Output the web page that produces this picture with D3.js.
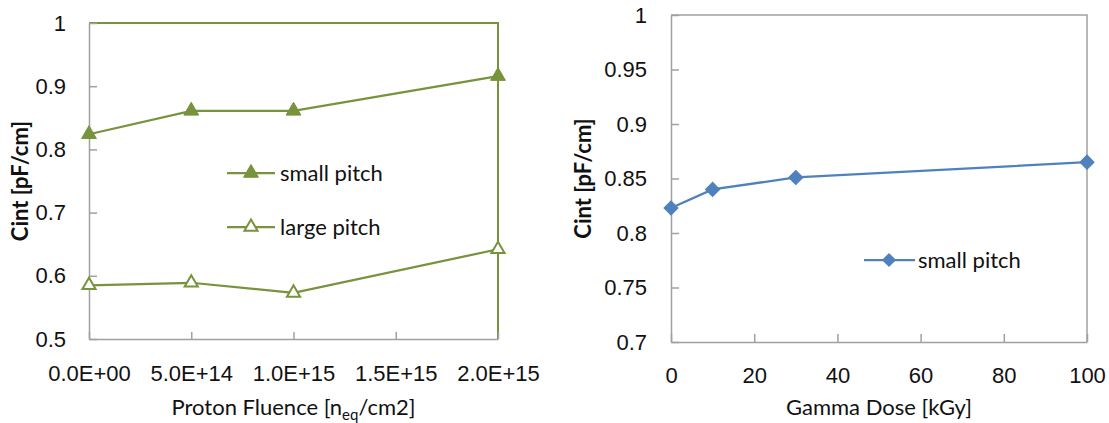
<!DOCTYPE html>
<html>
<head>
<meta charset="utf-8">
<script src="https://cdn.jsdelivr.net/npm/d3@7"></script>
<style>
  body { margin: 0; background: #fff; }
  svg { display: block; font-family: Lato, "Open Sans", sans-serif; }
  .axis path, .axis line { stroke: #a0a0a0; stroke-width: 1.5; }
  .axis text { font-size: 22px; fill: #111; }
</style>
</head>
<body>
<div id="chart"></div>
<script>
// Data - left panel (proton fluence)
var fluence = [0, 5e14, 1e15, 2e15];
var smallPitchP = [0.824, 0.861, 0.861, 0.916];
var largePitchP = [0.585, 0.589, 0.573, 0.642];
var fluenceTicks = [0, 5e14, 1e15, 1.5e15, 2e15];
var fluenceLabels = ["0.0E+00", "5.0E+14", "1.0E+15", "1.5E+15", "2.0E+15"];
var leftYTicks = [0.5, 0.6, 0.7, 0.8, 0.9, 1];

// Data - right panel (gamma dose)
var dose = [0, 10, 30, 100];
var smallPitchG = [0.823, 0.840, 0.851, 0.865];
var doseTicks = [0, 20, 40, 60, 80, 100];
var rightYTicks = [0.7, 0.75, 0.8, 0.85, 0.9, 0.95, 1];

var green = "#77933C", blue = "#4F81BD", grey = "#a0a0a0";

var svg = d3.select("#chart").append("svg")
    .attr("width", 1109)
    .attr("height", 423);

// ---------- left panel ----------
var L = {left: 89, right: 498, top: 23, bottom: 339};
var x1 = d3.scaleLinear().domain([0, 2e15]).range([L.left, L.right]);
var y1 = d3.scaleLinear().domain([0.5, 1]).range([L.bottom, L.top]);

// plot border (top/right green)
svg.append("path")
    .attr("d", "M" + L.left + "," + L.top + "H" + L.right + "V" + L.bottom)
    .attr("fill", "none")
    .attr("stroke", green)
    .attr("stroke-width", 2);

svg.append("g")
    .attr("class", "axis")
    .attr("transform", "translate(" + L.left + ",0)")
    .call(d3.axisLeft(y1).tickValues(leftYTicks).tickFormat(d3.format("")).tickSizeInner(-8).tickSizeOuter(0).tickPadding(23));

var gx1 = svg.append("g")
    .attr("class", "axis")
    .attr("transform", "translate(0," + L.bottom + ")")
    .call(d3.axisBottom(x1).tickValues(fluenceTicks).tickFormat((d, i) => fluenceLabels[i]).tickSizeInner(-7).tickSizeOuter(0));
gx1.selectAll("text").attr("y", 42).attr("dy", 0);

function drawSeries(xs, ys, xsc, ysc, color, symbol, size, hollow, rot) {
    var pts = xs.map((v, i) => [v, ys[i]]);
    svg.append("path")
        .datum(pts)
        .attr("fill", "none")
        .attr("stroke", color)
        .attr("stroke-width", 2.25)
        .attr("d", d3.line().x(d => xsc(d[0])).y(d => ysc(d[1])));
    svg.selectAll(null)
        .data(pts)
        .enter().append("path")
        .attr("d", d3.symbol().type(symbol).size(size))
        .attr("transform", d => "translate(" + xsc(d[0]) + "," + ysc(d[1]) + ") rotate(" + (rot || 0) + ")")
        .attr("fill", hollow ? "#fff" : color)
        .attr("stroke", color)
        .attr("stroke-width", hollow ? 2 : 1);
}

drawSeries(fluence, smallPitchP, x1, y1, green, d3.symbolTriangle, 95, false);
drawSeries(fluence, largePitchP, x1, y1, green, d3.symbolTriangle, 75, true);

// legend left
var legL = [
    {label: "small pitch", y: 173, hollow: false},
    {label: "large pitch", y: 227, hollow: true}
];
legL.forEach(function(d) {
    svg.append("line")
        .attr("x1", 227).attr("x2", 275)
        .attr("y1", d.y).attr("y2", d.y)
        .attr("stroke", green).attr("stroke-width", 2.25);
    svg.append("path")
        .attr("d", d3.symbol().type(d3.symbolTriangle).size(d.hollow ? 75 : 95))
        .attr("transform", "translate(251," + d.y + ")")
        .attr("fill", d.hollow ? "#fff" : green)
        .attr("stroke", green)
        .attr("stroke-width", d.hollow ? 2 : 1);
    svg.append("text")
        .attr("x", 280).attr("y", d.y)
        .attr("dy", "0.35em")
        .style("font-size", "22px")
        .style("fill", "#111")
        .text(d.label);
});

// axis titles left
svg.append("text")
    .attr("transform", "translate(28," + ((L.top + L.bottom) / 2) + ") rotate(-90)")
    .attr("text-anchor", "middle")
    .style("font-size", "22px")
    .style("font-weight", "bold")
    .style("fill", "#111")
    .text("Cint [pF/cm]");

var tx = svg.append("text")
    .attr("x", (L.left + L.right) / 2)
    .attr("y", 415)
    .attr("text-anchor", "middle")
    .style("font-size", "22px")
    .style("fill", "#111");
tx.append("tspan").text("Proton Fluence [n");
tx.append("tspan").attr("dy", 5).style("font-size", "15px").text("eq");
tx.append("tspan").attr("dy", -5).text("/cm2]");

// ---------- right panel ----------
var R = {left: 671, right: 1087, top: 15, bottom: 342};
var x2 = d3.scaleLinear().domain([0, 100]).range([R.left, R.right]);
var y2 = d3.scaleLinear().domain([0.7, 1]).range([R.bottom, R.top]);

svg.append("path")
    .attr("d", "M" + R.left + "," + R.top + "H" + R.right + "V" + R.bottom)
    .attr("fill", "none")
    .attr("stroke", grey)
    .attr("stroke-width", 1.5);

svg.append("g")
    .attr("class", "axis")
    .attr("transform", "translate(" + R.left + ",0)")
    .call(d3.axisLeft(y2).tickValues(rightYTicks).tickFormat(d3.format("")).tickSizeInner(-8).tickSizeOuter(0).tickPadding(24));

var gx2 = svg.append("g")
    .attr("class", "axis")
    .attr("transform", "translate(0," + R.bottom + ")")
    .call(d3.axisBottom(x2).tickValues(doseTicks).tickSizeInner(-8).tickSizeOuter(0));
gx2.selectAll("text").attr("y", 41).attr("dy", 0);

drawSeries(dose, smallPitchG, x2, y2, blue, d3.symbolSquare, 100, false, 45);

// legend right
svg.append("line")
    .attr("x1", 864).attr("x2", 915)
    .attr("y1", 260).attr("y2", 260)
    .attr("stroke", blue).attr("stroke-width", 2.25);
svg.append("path")
    .attr("d", d3.symbol().type(d3.symbolSquare).size(100))
    .attr("transform", "translate(889,260) rotate(45)")
    .attr("fill", blue);
svg.append("text")
    .attr("x", 918).attr("y", 260)
    .attr("dy", "0.35em")
    .style("font-size", "22px")
    .style("fill", "#111")
    .text("small pitch");

svg.append("text")
    .attr("transform", "translate(591," + ((R.top + R.bottom) / 2) + ") rotate(-90)")
    .attr("text-anchor", "middle")
    .style("font-size", "22px")
    .style("font-weight", "bold")
    .style("fill", "#111")
    .text("Cint [pF/cm]");

svg.append("text")
    .attr("x", (R.left + R.right) / 2)
    .attr("y", 415)
    .attr("text-anchor", "middle")
    .style("font-size", "22px")
    .style("fill", "#111")
    .text("Gamma Dose [kGy]");
</script>
</body>
</html>
